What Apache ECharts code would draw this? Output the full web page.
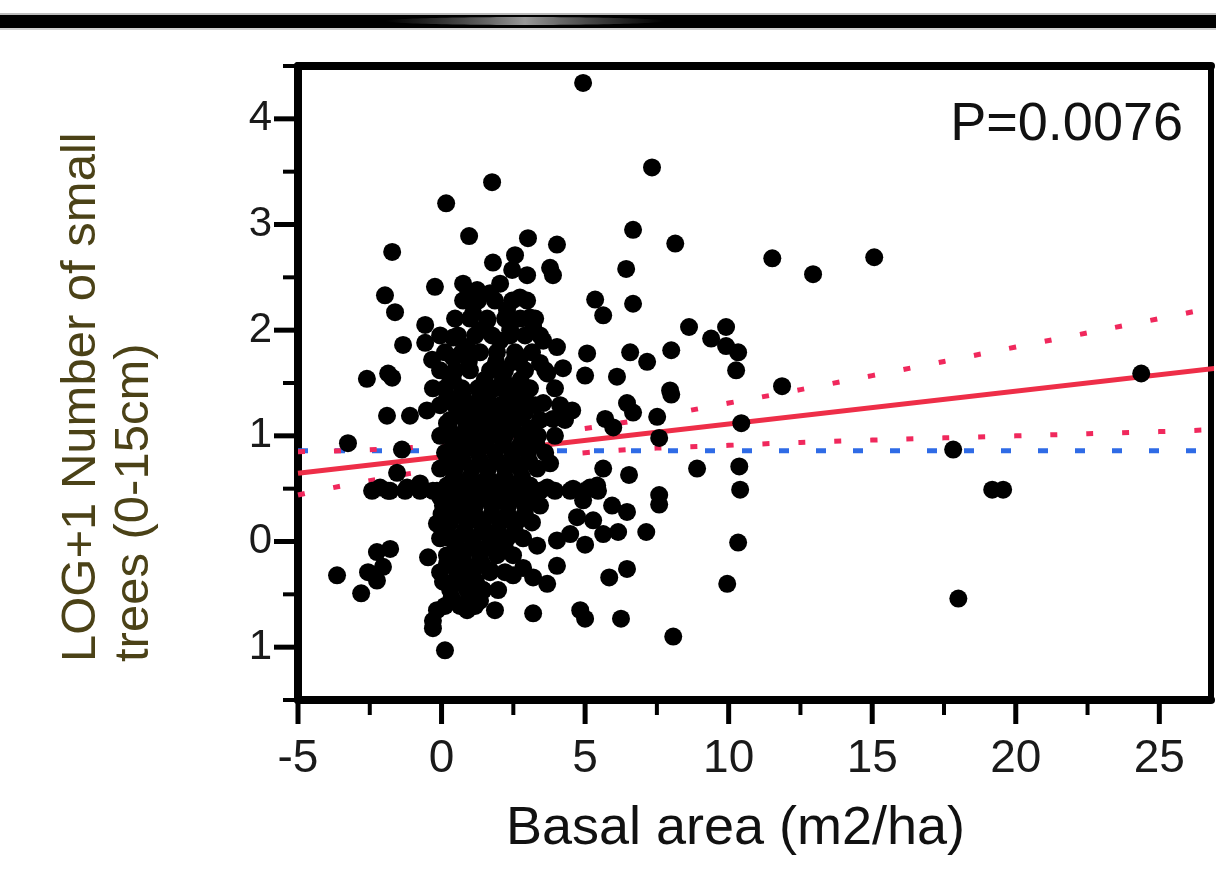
<!DOCTYPE html>
<html>
<head>
<meta charset="utf-8">
<script src="https://cdn.jsdelivr.net/npm/echarts@6/dist/echarts.min.js"></script>
<style>html,body{margin:0;padding:0;background:#fff}#c{width:1216px;height:872px}</style>
</head>
<body>
<div id="c"></div>
<script>
// ---- data ----
const xMajorTicks = [-5, 0, 5, 10, 15, 20, 25];
const xMinorTicks = [-2.5, 2.5, 7.5, 12.5, 17.5, 22.5];
const yMajorTicks = [-1, 0, 1, 2, 3, 4];
const yTickLabels = ['1', '0', '1', '2', '3', '4'];
const yMinorTicks = [-1.5, -0.5, 0.5, 1.5, 2.5, 3.5, 4.5];

const outlierPoints = [
  [4.93,4.34],[7.33,3.54],[1.76,3.40],[0.16,3.20],[6.67,2.95],[0.96,2.89],[8.14,2.82],[4.02,2.81],[3.01,2.87],[-1.72,2.74],
  [11.52,2.68],[12.94,2.53],[15.07,2.69],[6.43,2.58],[5.35,2.29],[5.63,2.14],[6.67,2.25],[8.62,2.03],[9.39,1.92],[9.91,2.03],
  [9.91,1.85],[10.33,1.79],[10.26,1.62],[5.07,1.78],[6.57,1.79],[7.16,1.70],[8.0,1.81],[5.0,1.57],[6.11,1.56],[7.96,1.43],[11.86,1.47],
  [8.0,1.39],[6.46,1.31],[6.67,1.22],[5.70,1.16],[5.98,1.08],[7.51,1.18],[7.58,0.98],[10.44,1.12],[5.63,0.69],[6.53,0.63],
  [8.90,0.69],[10.37,0.71],[10.40,0.49],[5.17,0.51],[5.94,0.34],[6.46,0.28],[7.58,0.44],[7.58,0.35],[5.28,0.20],[5.0,-0.03],
  [5.63,0.07],[6.15,0.09],[7.13,0.09],[10.33,-0.01],[5.84,-0.34],[6.46,-0.26],[9.95,-0.40],[5.0,-0.73],[6.25,-0.73],[4.83,-0.65],[8.07,-0.90],
  [17.82,0.87],[19.18,0.49],[19.56,0.49],[18.0,-0.54],[24.37,1.59]
];
const upperClusterPoints = [
  [2.56,2.71],[1.79,2.64],[3.78,2.59],[3.88,2.52],[2.98,2.52],[2.46,2.57],[2.04,2.44],[1.69,2.35],[2.73,2.31],[3.08,2.12],
  [2.28,2.19],[1.59,2.09],[3.19,2.03],[2.39,2.0],[2.04,1.90],[3.54,1.90],[4.02,1.84],[2.73,1.74],[3.43,1.69],[4.23,1.64],
  [2.14,1.54],[3.68,1.59],[2.84,1.46],[1.59,1.36],[2.28,1.34],[3.54,1.31],[4.55,1.24],[3.88,1.16],[2.73,1.17],[1.79,1.24],
  [-0.23,2.41],[-1.97,2.33],[-1.62,2.17],[0.75,2.44],[0.89,2.31],[1.24,2.38],[1.10,2.16],[-0.57,2.05],[-0.57,1.88],[-1.34,1.86],
  [0.40,1.93],[0.89,1.84],[0.40,1.74],[-0.33,1.72],[1.34,2.0],[0.99,1.62],[0.30,1.55],[-0.30,1.45],[-2.60,1.54],[-1.86,1.59],
  [-1.72,1.55],[0.75,1.34],[1.34,1.27],[-1.90,1.19],[-1.10,1.19],[-0.51,1.24],[0.19,1.12],[1.10,1.08]
];
const lowerClusterPoints = [
  [-3.26,0.93],[-1.38,0.87],[-1.55,0.65],[-2.14,0.51],[-1.79,0.48],[-1.20,0.51],[-0.75,0.55],[-0.30,0.48],[-0.05,0.42],[0.19,1.05],
  [0.30,0.83],[0.40,0.58],[0.54,0.36],[-0.16,0.17],[0.19,0.04],[-0.47,-0.15],[0.19,-0.21],[0.54,-0.09],[-1.79,-0.07],[-2.25,-0.10],
  [-2.04,-0.24],[-2.56,-0.29],[-2.25,-0.37],[-3.64,-0.32],[-2.80,-0.49],[0.54,-0.37],[0.89,-0.30],[1.34,-0.18],[1.10,-0.44],[-0.16,-0.65],
  [-0.30,-0.75],[-0.30,-0.82],[0.12,-1.03],[0.89,-0.65],[1.34,-0.56],
  [3.78,0.74],[5.42,0.53],[3.68,0.51],[2.98,0.48],[4.58,0.50],[4.93,0.39],[4.72,0.23],[4.48,0.07],[4.02,0.01],[3.33,-0.04],
  [4.02,-0.23],[2.84,-0.25],[3.19,-0.34],[3.68,-0.40],[2.49,-0.32],[1.86,-0.65],[3.19,-0.68],[2.04,-0.06],[1.69,-0.27],[1.45,-0.46]
];
const corePoints = [
  [0.75,2.28],[1.27,2.28],[1.86,2.28],[2.46,2.28],[2.98,2.28],
  [0.47,2.11],[0.99,2.11],[1.59,2.11],[2.21,2.11],[2.74,2.11],[3.26,2.11],
  [-0.05,1.95],[0.57,1.95],[1.17,1.95],[1.76,1.95],[2.39,1.95],[2.91,1.95],[3.43,1.95],
  [0.12,1.79],[0.71,1.79],[1.34,1.79],[1.93,1.79],[2.56,1.79],[3.15,1.79],
  [-0.05,1.62],[0.47,1.62],[1.69,1.62],[2.21,1.62],[2.91,1.62],[3.61,1.62],
  [0.12,1.45],[0.71,1.45],[1.27,1.45],[1.86,1.45],[2.46,1.45],[3.08,1.45],[3.95,1.45],
  [-0.05,1.29],[0.47,1.29],[0.99,1.29],[2.04,1.29],[2.67,1.29],[3.26,1.29],[4.13,1.29],
  [0.30,1.15],[0.82,1.15],[1.41,1.15],[1.93,1.15],[2.46,1.15],[3.43,1.15],[4.30,1.15],
  [-0.05,1.00],[0.57,1.00],[1.17,1.00],[1.69,1.00],[2.21,1.00],[2.80,1.00],[3.36,1.00],[3.95,1.00],
  [0.12,0.84],[0.71,0.84],[1.27,0.84],[1.86,0.84],[2.46,0.84],[3.01,0.84],[3.61,0.84],
  [-0.05,0.69],[0.47,0.69],[1.06,0.69],[1.62,0.69],[2.21,0.69],[2.74,0.69],[3.33,0.69],
  [0.19,0.53],[0.71,0.53],[1.34,0.53],[1.93,0.53],[2.49,0.53],[3.08,0.53],
  [-2.42,0.48],[-1.86,0.48],[-1.27,0.48],[-0.75,0.48],[-0.16,0.48],[0.47,0.48],[0.99,0.48],[1.69,0.48],[2.21,0.48],[2.74,0.48],
  [3.43,0.48],[3.95,0.48],[4.48,0.48],[5.00,0.48],[5.45,0.48],
  [0.05,0.34],[0.64,0.34],[1.17,0.34],[1.76,0.34],[2.32,0.34],[2.91,0.34],[3.43,0.34],
  [0.30,0.18],[0.89,0.18],[1.45,0.18],[2.04,0.18],[2.60,0.18],[3.15,0.18],
  [-0.05,0.03],[0.54,0.03],[1.10,0.03],[1.69,0.03],[2.28,0.03],[2.84,0.03],
  [0.19,-0.13],[0.75,-0.13],[1.34,-0.13],[1.93,-0.13],[2.49,-0.13],
  [-0.05,-0.29],[0.54,-0.29],[1.10,-0.29],[1.69,-0.29],[2.21,-0.29],
  [0.30,-0.46],[0.89,-0.46],[1.45,-0.46],[1.97,-0.46],
  [0.12,-0.61],[0.64,-0.61],[1.17,-0.61]
];
const coreFillPoints = [
  [0.95,1.70],[1.9,1.70],[2.5,1.70],
  [0.4,1.53],[1.5,1.53],[2.15,1.53],[2.75,1.53],
  [0.2,1.37],[0.75,1.37],[1.35,1.37],[2.3,1.37],[2.9,1.37],
  [0.55,1.22],[1.15,1.22],[1.65,1.22],[2.2,1.22],[2.9,1.22],
  [0.25,1.07],[0.85,1.07],[1.45,1.07],[1.95,1.07],[2.5,1.07],[3.1,1.07],
  [0.4,0.92],[0.95,0.92],[1.55,0.92],[2.15,0.92],[2.75,0.92],[3.3,0.92],
  [0.2,0.76],[0.75,0.76],[1.35,0.76],[1.95,0.76],[2.5,0.76],[3.05,0.76],
  [0.45,0.61],[1.0,0.61],[1.6,0.61],[2.2,0.61],[2.8,0.61],
  [0.35,0.41],[0.9,0.41],[1.45,0.41],[2.05,0.41],[2.6,0.41],[3.2,0.41],
  [0.0,0.26],[0.55,0.26],[1.15,0.26],[1.75,0.26],[2.3,0.26],[2.9,0.26],
  [0.2,0.10],[0.8,0.10],[1.4,0.10],[1.95,0.10],[2.55,0.10],
  [0.5,-0.05],[1.05,-0.05],[1.6,-0.05],[2.2,-0.05],
  [0.25,-0.21],[0.8,-0.21],[1.4,-0.21],
  [0.05,-0.38],[0.6,-0.38],[1.2,-0.38],
  [0.35,-0.53],[0.95,-0.53]
];

const fitX = [-5, 27];
const fitY = [0.645, 1.64];
const bandX = [-5, 0, 5, 10, 15, 20, 25, 27];
const bandUpper = [0.85, 0.91, 1.07, 1.31, 1.57, 1.84, 2.11, 2.22];
const bandLower = [0.44, 0.69, 0.84, 0.91, 0.96, 1.00, 1.04, 1.06];
const meanX = [-5, 27];
const meanY = [0.86, 0.86];

const pValueText = 'P=0.0076';
const xTitle = 'Basal area (m2/ha)';
const yTitle = 'LOG+1 Number of small\ntrees (0-15cm)';

// ---- chart ----
const FONT = '"Liberation Sans", Arial, sans-serif';
const zip = (xs, ys) => xs.map((x, i) => [x, ys[i]]);
const gridPos = { left: 298, top: 66, right: 5, bottom: 172 };
const X_MIN = -5, X_MAX = 26.8, Y_MIN = -1.5, Y_MAX = 4.5;

// tick marks drawn as custom series in axis coordinates (values from tick arrays)
function tickSeries(values, axis, len, width) {
  return {
    type: 'custom', xAxisIndex: 0, yAxisIndex: 0, silent: true, clip: false, z: 1,
    data: values.map(v => [v]),
    renderItem: (params, api) => {
      const v = api.value(0);
      const p = axis === 'x' ? api.coord([v, Y_MIN]) : api.coord([X_MIN, v]);
      const shape = axis === 'x'
        ? { x1: p[0], y1: p[1], x2: p[0], y2: p[1] + len }
        : { x1: p[0], y1: p[1], x2: p[0] - len, y2: p[1] };
      return { type: 'line', shape, style: { stroke: '#000', lineWidth: width, lineCap: 'butt' } };
    }
  };
}

const chart = echarts.init(document.getElementById('c'), null, { renderer: 'canvas' });
chart.setOption({
  animation: false,
  backgroundColor: '#ffffff',
  grid: [Object.assign({}, gridPos)],
  xAxis: [
    {
      type: 'value', gridIndex: 0, position: 'bottom', min: X_MIN, max: X_MAX, interval: 5,
      axisLine: { show: true, onZero: false, lineStyle: { color: '#000', width: 8 } },
      axisTick: { show: false },
      axisLabel: { customValues: xMajorTicks, fontSize: 46, color: '#1a1a1a', fontFamily: FONT, margin: 36 },
      splitLine: { show: false },
      name: xTitle, nameLocation: 'middle', nameGap: 102,
      nameTextStyle: { fontSize: 54, color: '#111', fontFamily: FONT, padding: [0, 38, 0, 0] }
    },
    {
      type: 'value', gridIndex: 0, position: 'top', min: X_MIN, max: X_MAX, interval: 5,
      axisLine: { show: true, onZero: false, lineStyle: { color: '#000', width: 8 } },
      axisTick: { show: false }, axisLabel: { show: false }, splitLine: { show: false }
    }
  ],
  yAxis: [
    {
      type: 'value', gridIndex: 0, position: 'left', min: Y_MIN, max: Y_MAX, interval: 0.5,
      axisLine: { show: true, onZero: false, lineStyle: { color: '#000', width: 8 } },
      axisTick: { show: false },
      axisLabel: {
        customValues: yMajorTicks, fontSize: 42, color: '#1a1a1a', fontFamily: FONT, margin: 26,
        formatter: v => { const i = yMajorTicks.indexOf(Math.round(v)); return i >= 0 ? yTickLabels[i] : ''; }
      },
      splitLine: { show: false }
    },
    {
      type: 'value', gridIndex: 0, position: 'right', min: Y_MIN, max: Y_MAX, interval: 0.5,
      axisLine: { show: true, onZero: false, lineStyle: { color: '#000', width: 6 } },
      axisTick: { show: false }, axisLabel: { show: false }, splitLine: { show: false }
    }
  ],
  series: [
    tickSeries(xMajorTicks, 'x', 24, 5),
    tickSeries(xMinorTicks, 'x', 15, 4),
    tickSeries(yMajorTicks, 'y', 24, 5),
    tickSeries(yMinorTicks, 'y', 15, 4),
    {
      type: 'line', xAxisIndex: 0, yAxisIndex: 0, data: zip(meanX, meanY), showSymbol: false, silent: true, z: 2,
      lineStyle: { color: '#2f6be6', width: 5, type: [10, 27], cap: 'butt' }
    },
    {
      type: 'line', xAxisIndex: 0, yAxisIndex: 0, data: zip(bandX, bandUpper), smooth: true, showSymbol: false, silent: true, z: 2,
      lineStyle: { color: '#f0285c', width: 5, type: [7, 29], cap: 'butt' }
    },
    {
      type: 'line', xAxisIndex: 0, yAxisIndex: 0, data: zip(bandX, bandLower), smooth: true, showSymbol: false, silent: true, z: 2,
      lineStyle: { color: '#f0285c', width: 5, type: [7, 29], cap: 'butt' }
    },
    {
      type: 'line', xAxisIndex: 0, yAxisIndex: 0, data: zip(fitX, fitY), showSymbol: false, silent: true, z: 3,
      lineStyle: { color: '#ee2e48', width: 5 }
    },
    {
      type: 'scatter', xAxisIndex: 0, yAxisIndex: 0, symbol: 'circle', symbolSize: 18, z: 5,
      itemStyle: { color: '#000', opacity: 1 },
      data: [].concat(outlierPoints, upperClusterPoints, lowerClusterPoints, corePoints, coreFillPoints)
    }
  ],
  graphic: [
    { type: 'rect', shape: { x: 0, y: 13, width: 1216, height: 2 }, style: { fill: '#bdbdbd' }, silent: true },
    { type: 'rect', shape: { x: 0, y: 15, width: 1216, height: 13 }, style: { fill: '#000' }, silent: true },
    { type: 'rect', shape: { x: 0, y: 28, width: 1216, height: 2 }, style: { fill: '#d0d0d0' }, silent: true },
    {
      type: 'ellipse', shape: { cx: 525, cy: 21, rx: 140, ry: 4 }, silent: true,
      style: {
        fill: new echarts.graphic.LinearGradient(0, 0, 1, 0, [
          { offset: 0, color: 'rgba(110,110,110,0)' },
          { offset: 0.5, color: 'rgba(160,160,160,0.95)' },
          { offset: 1, color: 'rgba(110,110,110,0)' }
        ])
      }
    },
    {
      type: 'text', x: 1183, y: 125, silent: true, z: 10,
      style: { text: pValueText, fontSize: 54, fontFamily: FONT, fill: '#111', align: 'right', verticalAlign: 'middle' }
    },
    {
      type: 'text', x: 108, y: 662, rotation: Math.PI / 2, silent: true, z: 10,
      style: { text: yTitle, fontSize: 49, fontFamily: FONT, fill: '#4b4217', align: 'left', verticalAlign: 'middle', lineHeight: 53 }
    }
  ]
});
</script>
</body>
</html>
